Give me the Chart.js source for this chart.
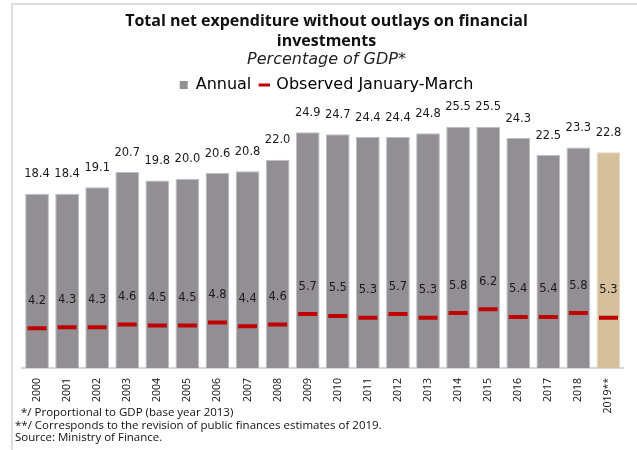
<!DOCTYPE html>
<html>
<head>
<meta charset="utf-8">
<script src="https://cdn.jsdelivr.net/npm/chart.js@4/dist/chart.umd.min.js"></script>
<style>
  html, body { margin: 0; padding: 0; background: #ffffff; }
  #wrap { position: relative; width: 637px; height: 450px; overflow: hidden; }
  #frame {
    position: absolute; left: 11px; top: 3px; right: -4px; bottom: -4px;
    border-left: 2px solid #dedede; border-top: 2px solid #dedede;
  }
  #chart { position: absolute; left: 0; top: 0; }
  .note {
    position: absolute; font-family: "Open Sans", sans-serif; font-size: 11.5px;
    color: #111; white-space: nowrap; line-height: 14px;
  }
</style>
</head>
<body>
<div id="wrap">
  <div id="frame"></div>
  <canvas id="chart" width="637" height="450"></canvas>
  <div class="note" style="left:21px; top:405px;">*/ Proportional to GDP (base year 2013)</div>
  <div class="note" style="left:15px; top:418px;">**/ Corresponds to the revision of public finances estimates of 2019.</div>
  <div class="note" style="left:15px; top:430px;">Source: Ministry of Finance.</div>
</div>
<script>
const years = ['2000', '2001', '2002', '2003', '2004', '2005', '2006', '2007', '2008', '2009',
  '2010', '2011', '2012', '2013', '2014', '2015', '2016', '2017', '2018', '2019**'];
const annual = [18.4, 18.4, 19.1, 20.7, 19.8, 20.0, 20.6, 20.8, 22.0, 24.9,
  24.7, 24.4, 24.4, 24.8, 25.5, 25.5, 24.3, 22.5, 23.3, 22.8];
const janMar = [4.2, 4.3, 4.3, 4.6, 4.5, 4.5, 4.8, 4.4, 4.6, 5.7,
  5.5, 5.3, 5.7, 5.3, 5.8, 6.2, 5.4, 5.4, 5.8, 5.3];

const SANS = '"Open Sans", sans-serif';
const WIDE = '"DejaVu Sans", sans-serif';
const GREY = '#918f94';
const TAN = '#d5c09b';
const RED = '#c00000';

// last year is an estimate, shown in tan
const barColors = years.map((y) => (y.endsWith('**') ? TAN : GREY));
const barEdges = years.map((y) => (y.endsWith('**') ? '#e2d6be' : '#bebdc1'));

// value labels: annual above the bar, Jan-Mar above its dash
const valueLabels = {
  id: 'valueLabels',
  afterDatasetsDraw(chart) {
    const ctx = chart.ctx;
    ctx.save();
    ctx.font = '11.5px ' + WIDE;
    ctx.fillStyle = '#1a1a1a';
    ctx.textAlign = 'center';
    ctx.textBaseline = 'middle';
    chart.getDatasetMeta(0).data.forEach((bar, i) => {
      ctx.fillText(annual[i].toFixed(1), bar.x, bar.y - 19.5);
    });
    chart.getDatasetMeta(1).data.forEach((pt, i) => {
      ctx.fillText(janMar[i].toFixed(1), pt.x, pt.y - 27.5);
    });
    ctx.restore();
  }
};

new Chart(document.getElementById('chart'), {
  data: {
    labels: years,
    datasets: [
      {
        type: 'bar',
        label: 'Annual',
        data: annual,
        backgroundColor: barColors,
        borderColor: barEdges,
        borderWidth: 1,
        barPercentage: 0.79,
        categoryPercentage: 1,
        order: 2,
      },
      {
        type: 'line',
        label: 'Observed January-March',
        data: janMar,
        showLine: false,
        pointStyle: 'line',
        pointRadius: 9.5,
        pointHoverRadius: 9.5,
        pointBorderWidth: 4,
        borderColor: RED,
        backgroundColor: RED,
        order: 1,
      },
    ],
  },
  options: {
    responsive: false,
    animation: false,
    layout: { padding: { left: 22, right: 6, top: 0, bottom: 0 } },
    plugins: {
      title: {
        display: true,
        text: ['Total net expenditure without outlays on financial', 'investments'],
        color: '#111',
        font: { family: SANS, size: 16, weight: 'bold', lineHeight: 1.25 },
        padding: { top: 11, bottom: 1 },
      },
      subtitle: {
        display: true,
        text: 'Percentage of GDP*',
        color: '#222',
        font: { family: WIDE, size: 16, style: 'italic', lineHeight: 1 },
        padding: { top: 0, bottom: 0 },
      },
      legend: {
        display: true,
        labels: {
          color: '#111',
          font: { family: WIDE, size: 16 },
          usePointStyle: true,
          boxWidth: 8,
          boxHeight: 8,
          padding: 9,
          generateLabels: () => [
            { text: 'Annual', fillStyle: GREY, strokeStyle: GREY, lineWidth: 0, pointStyle: 'rect' },
            { text: 'Observed January-March', fillStyle: RED, strokeStyle: RED, lineWidth: 3, pointStyle: 'line' },
          ],
        },
      },
      tooltip: { enabled: false },
    },
    scales: {
      x: {
        grid: { display: false, drawTicks: false },
        border: { display: true, color: '#d6d6d6', width: 2 },
        ticks: {
          color: '#111',
          font: { family: SANS, size: 10.5 },
          minRotation: 90,
          maxRotation: 90,
          padding: 10,
          autoSkip: false,
        },
        afterFit(scale) { scale.height = 82; },
      },
      y: {
        display: false,
        min: 0,
        max: 28,
      },
    },
  },
  plugins: [valueLabels],
});
</script>
</body>
</html>
